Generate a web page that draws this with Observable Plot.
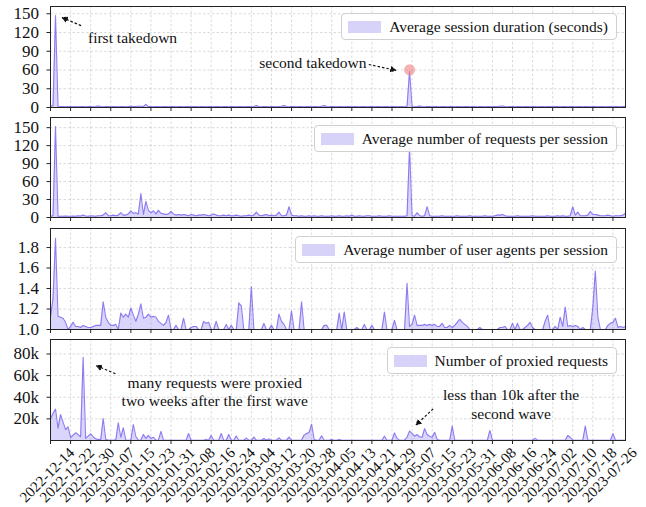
<!DOCTYPE html>
<html><head><meta charset="utf-8">
<script src="https://cdn.jsdelivr.net/npm/d3@7"></script>
<script src="https://cdn.jsdelivr.net/npm/@observablehq/plot@0.6"></script>
<style>
html,body{margin:0;padding:0;background:#fff;}
#chart{position:relative;width:646px;height:507px;overflow:hidden;font-family:"Liberation Serif",serif;}
.panel{position:absolute;left:0;}
.panel svg, .panel svg text{font-family:"Liberation Serif","Times New Roman",serif !important;}
.legend{position:absolute;right:29px;display:flex;align-items:center;border:1px solid #d0d0d0;border-radius:4px;background:rgba(255,255,255,0.85);font-size:15.5px;color:#111;box-sizing:border-box;height:27px;padding:0 8px 0 6px;white-space:nowrap;}
.legend .sw{width:33px;height:12px;background:#d7d2f7;margin-right:8px;flex:none;}
</style></head>
<body><div id="chart"></div>
<script>
const startDate = "2022-12-14";
const xTickLabels = ["2022-12-14","2022-12-22","2022-12-30","2023-01-07","2023-01-15","2023-01-23","2023-01-31","2023-02-08","2023-02-16","2023-02-24","2023-03-04","2023-03-12","2023-03-20","2023-03-28","2023-04-05","2023-04-13","2023-04-21","2023-04-29","2023-05-07","2023-05-15","2023-05-23","2023-05-31","2023-06-08","2023-06-16","2023-06-24","2023-07-02","2023-07-10","2023-07-18","2023-07-26"];

const seriesLabels = ["Average session duration (seconds)","Average number of requests per session","Average number of user agents per session","Number of proxied requests"];

// daily values, one per day starting at startDate
const durationSec = [
2,3,147,2,1.5,1.5,1,1.5,1.5,1,
1.5,1,1.5,1.5,1,1.5,1.5,1,1.5,2.5,
1.5,1,1.5,1.5,1,1.5,1.5,1,1.5,1.5,
1,1.5,2,1.5,1.5,2,2,1.5,5,1.5,
1.5,1,1.5,1.5,1,1.5,1.5,1,1.5,1.5,
1,1.5,1.5,1,1.5,1.5,1,1.5,1.5,1,
1.5,1.5,1,1.5,1.5,1,1.5,1.5,1,1.5,
1.5,1,1.5,1.5,1,1.5,1.5,1,1.5,1.5,
1,1.5,3,1.5,1,1.5,1.5,1,1.5,1.5,
1,1.5,2,3,1.5,1,1.5,1.5,1,1.5,
1.5,1,1.5,1.5,1,1.5,1.5,1,2,3,
1.5,1,1.5,1.5,1,1.5,1.5,1,1.5,1.5,
1,1.5,1.5,1,1.5,1.5,1,1.5,1.5,1,
1.5,1.5,1,1.5,1.5,1,1.5,1.5,1,1.5,
1.5,1,2,58,1.5,1,1.5,2.5,1.5,1,
1.5,1.5,1,1.5,1.5,1,1.5,1.5,1,1.5,
1.5,1,1.5,1.5,1,1.5,1.5,1,1.5,1.5,
1,1.5,1.5,1,1.5,1.5,1,1.5,1.5,2,
2.5,1.5,1,1.5,1.5,1,1.5,1.5,1,1.5,
1.5,1,1.5,1.5,1,1.5,1.5,1,1.5,1.5,
1,1.5,1.5,1,1.5,1.5,1,1.5,1.5,1,
1.5,1.5,1,1.5,1.5,1,1.5,1.5,1,1.5,
1.5,1,1.5,1.5,1,1.5,1.5,1,1.5,2];

const requestsPerSession = [
2,3,152,2,2,2,2.5,2,2,2.5,
2,3,2.5,4,2.5,2,3,2.5,2,3,
3,4,8,3,3,4,3,4,8,4,
4,6,11,7,8,6,40,5,27,12,
8,11,6,12,7,6,5,6,10,6,
4,5,4,5,4,3,5,4,3,4,
4,5,4,3,4,6,4,3,3,4,
3,4,3,3,4,3,2,3,3,4,
3,4,9,4,3,4,5,3,4,3,
4,9,3,3,4,18,4,3,3,2,
3,2,2,3,2,3,2,2,3,2,
2,2,3,2,2,3,2,2,3,2,
4,2,2,3,2,2,3,3,2,2,
2,3,2,2,2,3,2,2,2,2,
2,2,3,117,3,2,8,3,2,3,
18,3,2,2,2,2,3,2,2,2,
2,2,3,2,2,2,2,3,2,2,
2,2,2,3,2,2,2,3,4,4,
5,3,2,2,2,2,3,2,2,2,
2,2,3,2,2,2,2,2,3,2,
2,2,3,2,3,2,2,3,18,4,
9,3,3,3,4,10,5,5,4,3,
3,3,4,3,2,3,3,3,4,7];

const userAgentsPerSession = [
1.12,1.3,1.89,1.13,1.12,1.11,1.07,1.0,1.03,1.07,
1.03,1.03,1.02,1.04,1.03,1.02,1.02,1.03,1.04,1.04,
1.04,1.27,1.12,1.07,1.04,1.04,1.05,1.0,1.16,1.12,
1.15,1.12,1.21,1.14,1.08,1.15,1.25,1.11,1.12,1.15,
1.12,1.13,1.12,1.08,1.06,1.04,1.07,1.14,1.0,1.0,
1.04,1.0,1.0,1.11,1.0,1.0,1.02,1.03,1.03,1.0,
1.0,1.08,1.06,1.07,1.0,1.0,1.08,1.0,1.0,1.0,
1.05,1.0,1.04,1.0,1.0,1.26,1.23,1.0,1.0,1.0,
1.42,1.0,1.0,1.0,1.0,1.06,1.0,1.0,1.04,1.0,
1.0,1.15,1.08,1.05,1.0,1.0,1.18,1.0,1.0,1.0,
1.27,1.0,1.0,1.0,1.0,1.0,1.0,1.0,1.0,1.04,
1.04,1.0,1.0,1.0,1.0,1.16,1.0,1.17,1.0,1.0,
1.0,1.0,1.02,1.0,1.0,1.05,1.0,1.0,1.04,1.0,
1.0,1.0,1.0,1.17,1.0,1.0,1.0,1.09,1.0,1.0,
1.0,1.0,1.45,1.03,1.05,1.14,1.04,1.04,1.04,1.05,
1.04,1.05,1.04,1.05,1.03,1.03,1.06,1.02,1.02,1.04,
1.02,1.04,1.07,1.1,1.07,1.05,1.03,1.0,1.0,1.0,
1.0,1.02,1.0,1.0,1.0,1.0,1.0,1.0,1.0,1.02,
1.02,1.03,1.0,1.0,1.06,1.0,1.06,1.0,1.0,1.02,
1.04,1.07,1.02,1.0,1.0,1.0,1.0,1.08,1.14,1.0,
1.0,1.03,1.0,1.12,1.03,1.22,1.03,1.04,1.03,1.04,
1.03,1.0,1.02,1.0,1.0,1.0,1.22,1.57,1.12,1.0,
1.0,1.0,1.04,1.06,1.07,1.11,1.02,1.03,1.02,1.03];

const proxiedRequests = [
20000,25000,29000,11500,24000,17000,10000,12700,2600,5000,
7100,5500,3500,77000,2000,4000,6200,3500,1500,1000,
800,20300,1000,400,300,300,600,16300,3000,11700,
500,300,400,14800,3700,300,400,5600,2000,4700,
2000,3000,300,300,8400,300,200,300,200,300,
200,300,200,300,300,6500,300,200,300,200,
300,200,1000,300,4700,300,200,300,6500,300,
200,5600,300,200,4200,300,200,300,2200,300,
200,3200,300,200,300,1800,300,1500,300,200,
300,2500,300,200,300,3200,300,200,300,200,
300,5000,6500,7500,15000,1000,300,200,4400,300,
200,300,1000,300,200,1000,300,200,300,200,
300,200,300,200,300,200,300,200,300,200,
300,200,300,4000,300,200,300,7000,2000,300,
200,300,3000,8700,6500,4000,5500,3500,3000,11000,
5500,4000,3000,7600,1000,300,200,300,200,300,
13300,500,300,200,300,200,300,200,300,200,
300,200,300,200,300,9300,300,200,300,200,
300,200,300,200,300,200,300,200,300,200,
300,200,300,2000,300,200,300,200,300,200,
300,200,300,200,300,200,4600,3000,300,200,
300,200,300,13300,300,200,300,200,300,200,
300,200,300,200,6400,500,300,200,300,200];

const yTicksDuration = [0,30,60,90,120,150];
const yTicksRequests = [0,30,60,90,120,150];
const yTicksAgents = [1.0,1.2,1.4,1.6,1.8];
const yTicksProxied = [20000,40000,60000,80000];
const yTickLabelsProxied = ["20k","40k","60k","80k"];

// annotations (data coordinates)
const notes1 = [
  {date:"2023-01-15T16:00Z", value:112.8, text:"first takedown"},
  {date:"2023-03-28T12:00Z", value:72, text:"second takedown"}
];
const arrows1 = [
  {from:"2022-12-26T04:00Z", v1:131, to:"2022-12-19T04:00Z", v2:143},
  {from:"2023-04-19T18:00Z", v1:68.8, to:"2023-04-30T00:00Z", v2:60}
];
const highlight1 = [{date:"2023-05-06T00:00Z", value:60.3}];
const notes4 = [
  {date:"2023-02-17T10:00Z", value:45600, text:"many requests were proxied\ntwo weeks after the first wave"},
  {date:"2023-06-15T10:00Z", value:34000, text:"less than 10k after the\nsecond wave"}
];
const arrows4 = [
  {from:"2023-01-08T21:00Z", v1:61700, to:"2023-01-01T20:00Z", v2:68700},
  {from:"2023-05-15T10:00Z", v1:29300, to:"2023-05-09T00:00Z", v2:15400}
];

const parse = d3.utcParse("%Y-%m-%d");
const t0 = parse(startDate);
const rows = s => s.map((v,i)=>({date:d3.utcDay.offset(t0,i), value:v}));
const xDomain = [t0, d3.utcDay.offset(t0, durationSec.length-1)];
const tickDates = xTickLabels.map(parse);

const LINE = "#7b68ee";
const FONT = "'Liberation Serif', 'Times New Roman', serif";
const gridStyle = {stroke:"#9a9a9a", strokeOpacity:0.45, strokeDasharray:"2.5,2", strokeWidth:0.8};

function annotMarks(notes, arrows, hl) {
  const m = [];
  if (hl) m.push(Plot.dot(hl, {x:d=>new Date(d.date), y:"value", r:5.5, fill:"#f08080", fillOpacity:0.6}));
  if (notes) m.push(Plot.text(notes, {x:d=>new Date(d.date), y:"value", text:"text", fontSize:15.5, fontFamily:FONT, fill:"#111", lineHeight:1.2, textAnchor:"middle"}));
  if (arrows) m.push(Plot.link(arrows, {x1:d=>new Date(d.from), y1:"v1", x2:d=>new Date(d.to), y2:"v2", stroke:"#111", strokeWidth:1.2, strokeDasharray:"2.5,2", markerEnd:"arrow"}));
  return m;
}

function panel({values, yDomain, yTicks, yFormat, base, top, innerH, mb, label, legendTop, extra=[], showX=false}) {
  const data = rows(values);
  const marks = [
    Plot.gridX(tickDates, gridStyle),
    Plot.gridY(yTicks, gridStyle),
    Plot.areaY(data, {x:"date", y1:()=>base, y2:"value", fill:LINE, fillOpacity:0.28}),
    Plot.lineY(data, {x:"date", y:"value", stroke:LINE, strokeWidth:1.1, strokeOpacity:0.85}),
    Plot.frame({stroke:"#222", strokeWidth:1}),
    Plot.axisX(tickDates, {tickSize:4, tickFormat:()=>"", label:null, stroke:"#222"}),
    Plot.axisY(yTicks, {tickSize:3.5, tickPadding:8, tickFormat:yFormat, label:null, fontSize:17, fontFamily:FONT, fill:"#111", stroke:"#222"}),
    ...extra
  ];
  if (showX) marks.push(Plot.text(xTickLabels, {x:d=>parse(d), text:d=>d, frameAnchor:"bottom", dy:38, rotate:-45, textAnchor:"middle", fontSize:15, fontFamily:FONT, fill:"#111"}));
  const svg = Plot.plot({
    width:646, height:6+innerH+mb, marginTop:6, marginBottom:mb, marginLeft:50, marginRight:21,
    style:"font-family:" + FONT + ";font-size:17px;background:transparent;overflow:visible;color:#111;",
    x:{type:"utc", domain:xDomain},
    y:{domain:yDomain},
    marks
  });
  svg.querySelectorAll("marker").forEach(mk => {
    mk.setAttribute("fill", "#111");
    mk.querySelectorAll("path").forEach(p => p.setAttribute("d", "M-4.5,-3L1.5,0L-4.5,3Z"));
  });
  const div = document.createElement("div");
  div.className = "panel";
  div.style.top = top + "px";
  div.appendChild(svg);
  document.getElementById("chart").appendChild(div);
  const lg = document.createElement("div");
  lg.className = "legend";
  lg.style.top = legendTop + "px";
  lg.innerHTML = '<span class="sw"></span><span></span>';
  lg.lastChild.textContent = label;
  document.getElementById("chart").appendChild(lg);
}

panel({values:durationSec, yDomain:[0,161.6], yTicks:yTicksDuration, yFormat:d=>String(d), base:0, top:0, innerH:101, mb:8, label:seriesLabels[0], legendTop:13,
  extra:annotMarks(notes1, arrows1, highlight1)});
panel({values:requestsPerSession, yDomain:[0,167], yTicks:yTicksRequests, yFormat:d=>String(d), base:0, top:111, innerH:100, mb:8, label:seriesLabels[1], legendTop:125});
panel({values:userAgentsPerSession, yDomain:[1,1.986], yTicks:yTicksAgents, yFormat:d3.format(".1f"), base:1, top:222, innerH:101, mb:8, label:seriesLabels[2], legendTop:236});
panel({values:proxiedRequests, yDomain:[0,93400], yTicks:yTicksProxied, yFormat:d=>yTickLabelsProxied[yTicksProxied.indexOf(d)], base:0, top:333, innerH:101, mb:67, label:seriesLabels[3], legendTop:347, showX:true,
  extra:annotMarks(notes4, arrows4, null)});
</script></body></html>
